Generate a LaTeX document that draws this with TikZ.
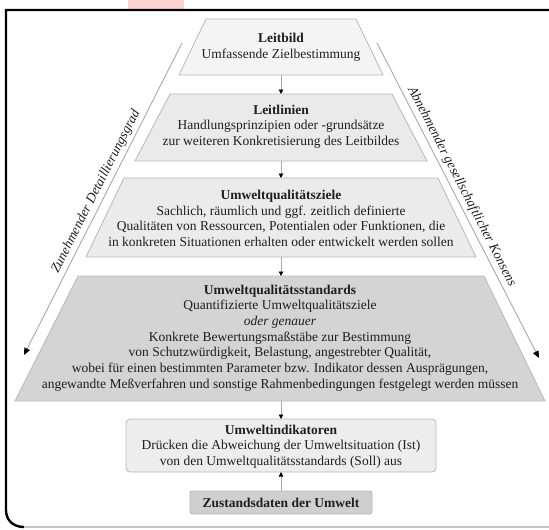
\documentclass[tikz,border=0pt]{standalone}
\usepackage{fontspec}
\setmainfont{Liberation Serif}
\usetikzlibrary{arrows.meta}
\definecolor{edgec}{HTML}{B8B8B8}
\definecolor{textc}{HTML}{1E1E1E}
\definecolor{fillA}{HTML}{F4F4F4}
\definecolor{fillB}{HTML}{EAEAEA}
\definecolor{fillC}{HTML}{EBEBEB}
\definecolor{fillD}{HTML}{D4D4D4}
\definecolor{fillE}{HTML}{EDEDED}
\definecolor{fillF}{HTML}{CFCFCF}
\definecolor{pinkc}{HTML}{FCD2D2}
\definecolor{linec}{HTML}{A8A8A8}
\tikzset{
  level/.style={draw=edgec, line width=0.8pt},
  txt/.style={align=center, text=textc, inner sep=0pt},
  conn/.style={draw=linec, line width=0.9pt, -{Triangle[length=4.5pt,width=4.5pt,color=black]}},
  sidearrow/.style={draw=linec, line width=0.9pt, -{Triangle[length=7pt,width=6pt,color=black]}},
  sidetxt/.style={text=textc, font=\fontsize{13.5}{15}\selectfont\itshape, inner sep=0pt}
}
\begin{document}
\begin{tikzpicture}[x=1pt,y=-1pt, font=\fontsize{13.5}{15.7}\selectfont]
\useasboundingbox (0,0) rectangle (549,530);
% pink mark
\fill[pinkc] (128,0) rectangle (184,9.5);
% frame
\draw[black, line width=2.4pt] (552,10) -- (6,10) -- (6,510) .. controls (6,520) and (13,527) .. (24,527);
\draw[edgec!80, line width=1.6pt] (24,527) -- (552,527);

% levels
\filldraw[level, fill=fillA] (206,19) -- (356,19) -- (383,75) -- (179,75) -- cycle;
\filldraw[level, fill=fillB] (170,94) -- (392,94) -- (427,161) -- (135,161) -- cycle;
\filldraw[level, fill=fillC] (124,178) -- (438,178) -- (476,257) -- (86,257) -- cycle;
\filldraw[level, fill=fillD] (78,276) -- (484,276) -- (545,401) -- (15,401) -- cycle;
\filldraw[level, fill=fillE, rounded corners=4pt] (126,419) rectangle (436,472);
\filldraw[level, fill=fillF, rounded corners=2pt] (190,491) rectangle (372,514);

% texts
\node[txt] (lb) at (281,47) {\textbf{Leitbild}\\Umfassende Zielbestimmung};
\node[txt] (ll) at (281,126.5) {\textbf{Leitlinien}\\Handlungsprinzipien oder -grundsätze\\zur weiteren Konkretisierung des Leitbildes};
\node[txt] (uz) at (281,218.5) {\textbf{Umweltqualitätsziele}\\Sachlich, räumlich und ggf. zeitlich definierte\\Qualitäten von Ressourcen, Potentialen oder Funktionen, die\\in konkreten Situationen erhalten oder entwickelt werden sollen};
\node[txt] (us) at (280,338) {\textbf{Umweltqualitätsstandards}\\Quantifizierte Umweltqualitätsziele\\\textit{oder genauer}\\Konkrete Bewertungsmaßstäbe zur Bestimmung\\von Schutzwürdigkeit, Belastung, angestrebter Qualität,\\wobei für einen bestimmten Parameter bzw. Indikator dessen Ausprägungen,\\angewandte Meßverfahren und sonstige Rahmenbedingungen festgelegt werden müssen};
\node[txt] (ui) at (281,446.5) {\textbf{Umweltindikatoren}\\Drücken die Abweichung der Umweltsituation (Ist)\\von den Umweltqualitätsstandards (Soll) aus};
\node[txt] (zd) at (281,502.5) {\textbf{Zustandsdaten der Umwelt}};

% connector end points
\coordinate (lbB) at (281,75);
\coordinate (llT) at (281,94);
\coordinate (llB) at (281,161);
\coordinate (uzT) at (281,178);
\coordinate (uzB) at (281,257);
\coordinate (usT) at (281,276);
\coordinate (usB) at (281,401);
\coordinate (uiT) at (281,419);
\coordinate (uiB) at (281,472);
\coordinate (zdT) at (281,491);

\draw[conn] (lbB) -- (llT);
\draw[conn] (llB) -- (uzT);
\draw[conn] (uzB) -- (usT);
\draw[conn] (usB) -- (uiT);
\draw[conn] (zdT) -- (uiB);

% side arrows
\coordinate (lsA) at (182,43);
\coordinate (lsB) at (24,355);
\coordinate (rsA) at (377,43);
\coordinate (rsB) at (539,358);
\draw[sidearrow] (lsA) -- (lsB) node[pos=0.49, sloped, above=3pt, sidetxt] (ltx) {Zunehmender Detaillierungsgrad};
\draw[sidearrow] (rsA) -- (rsB) node[pos=0.47, sloped, above=3pt, sidetxt] (rtx) {Abnehmender gesellschaftlicher Konsens};
\end{tikzpicture}
\end{document}
